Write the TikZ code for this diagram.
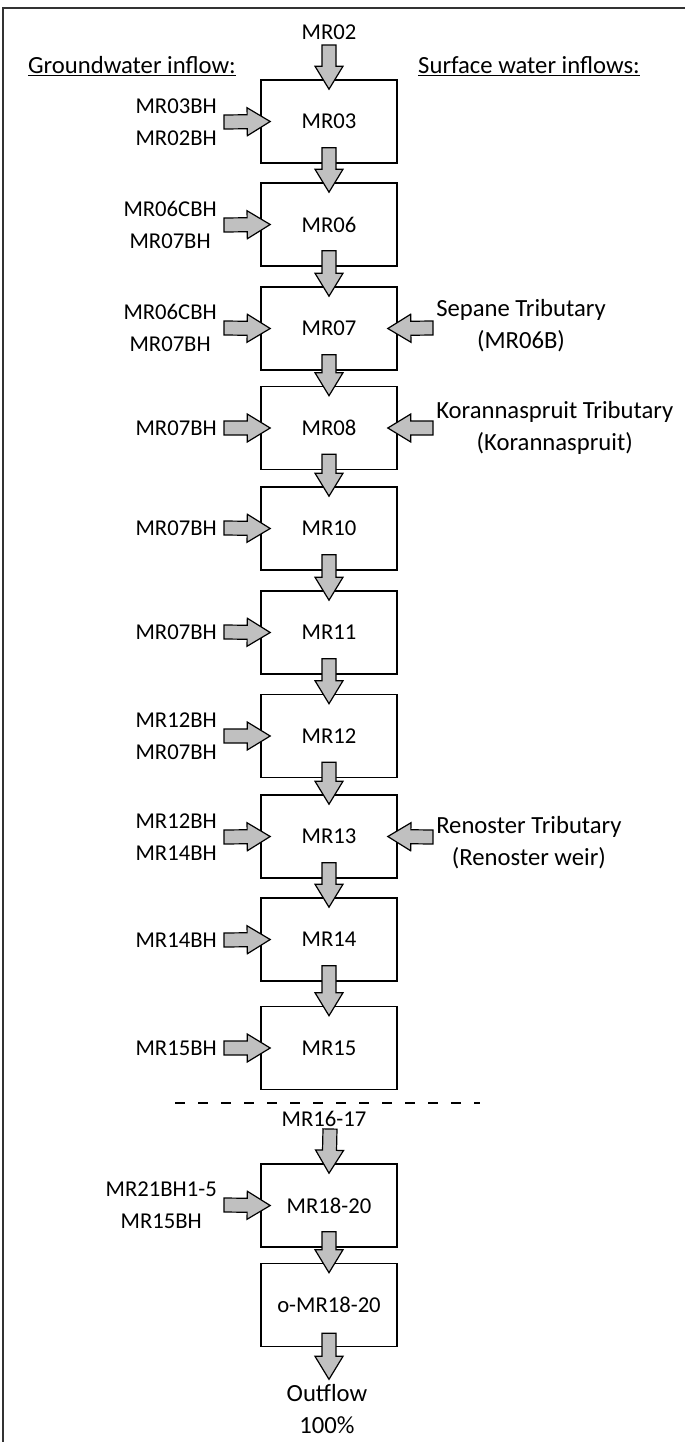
\documentclass[tikz,border=0pt]{standalone}
\usepackage{fontspec}
\setmainfont{Carlito}
\usetikzlibrary{calc}

\definecolor{flowgray}{RGB}{192,192,192}

\tikzset{
  big/.style={font=\fontsize{18.5}{24}\selectfont},
  reach/.style={draw, line width=1.2pt, minimum width=102pt, minimum height=62.25pt, inner sep=0pt},
  gwlabel/.style={anchor=east, align=center, inner sep=0pt},
  swlabel/.style={big, anchor=west, align=center, inner sep=0pt},
  % fat grey block arrow from start to target
  flow/.style={draw, fill=flowgray, line width=0.9pt, line join=miter,
    to path={let \p1=(\tikztostart), \p2=(\tikztotarget),
      \n1={atan2(\y2-\y1,\x2-\x1)}, \n2={veclen(\x2-\x1,\y2-\y1)} in
      {[shift={(\p1)}, rotate=\n1]
        (0pt,-5.25pt) -- (\n2-17.25pt,-5.25pt) -- (\n2-17.25pt,-10.5pt)
        -- (\n2,0pt) -- (\n2-17.25pt,10.5pt) -- (\n2-17.25pt,5.25pt)
        -- (0pt,5.25pt) -- cycle}}},
}

\begin{document}
\begin{tikzpicture}[x=0.75pt,y=-0.75pt,font=\fontsize{17}{24}\selectfont]
\useasboundingbox (0,0) rectangle (685,1442);
\draw [black!80, line width=0.8pt] (685,8) -- (3,8) -- (3,1442);

\node [big] (gwhead) at (132,66) {\underline{Groundwater inflow:}};
\node [big] (swhead) at (529,66) {\underline{Surface water inflows:}};

% reaches
\node [reach] (mr03) at (329,121.5) {MR03};
\node [reach] (mr06) at (329,224.5) {MR06};
\node [reach] (mr07) at (329,328.5) {MR07};
\node [reach] (mr08) at (329,428) {MR08};
\node [reach] (mr10) at (329,528.5) {MR10};
\node [reach] (mr11) at (329,632.5) {MR11};
\node [reach] (mr12) at (329,736) {MR12};
\node [reach] (mr13) at (329,836.5) {MR13};
\node [reach] (mr14) at (329,939.5) {MR14};
\node [reach] (mr15) at (329,1048) {MR15};
\node [reach] (mr1820) at (329,1205.5) {MR18-20};
\node [reach] (omr1820) at (329,1305) {o-MR18-20};

\node (mr02) at (329,32) {MR02};
\node (mr1617) at (324,1119) {MR16-17};
\node [big, align=center] (outflow) at (327,1409) {Outflow\\100\%};

% main channel
\draw [flow] ($(mr02.center)+(0,13)$) to ($(mr03.north)+(0,10)$);
\draw [flow] ($(mr03.south)+(0,-16)$) to ($(mr06.north)+(0,10)$);
\draw [flow] ($(mr06.south)+(0,-16)$) to ($(mr07.north)+(0,10)$);
\draw [flow] ($(mr07.south)+(0,-16)$) to ($(mr08.north)+(0,10)$);
\draw [flow] ($(mr08.south)+(0,-16)$) to ($(mr10.north)+(0,10)$);
\draw [flow] ($(mr10.south)+(0,-16)$) to ($(mr11.north)+(0,10)$);
\draw [flow] ($(mr11.south)+(0,-16)$) to ($(mr12.north)+(0,10)$);
\draw [flow] ($(mr12.south)+(0,-16)$) to ($(mr13.north)+(0,10)$);
\draw [flow] ($(mr13.south)+(0,-16)$) to ($(mr14.north)+(0,10)$);
\draw [flow] ($(mr14.south)+(0,-16)$) to ($(mr15.north)+(0,10)$);
\draw [flow] ($(mr1617.center)+(6,10)$) to ($(mr1820.north)+(0,10)$);
\draw [flow] ($(mr1820.south)+(0,-16)$) to ($(omr1820.north)+(0,10)$);
\draw [flow] ($(omr1820.south)+(0,-14)$) to ($(omr1820.south)+(0,32)$);

% groundwater
\node [gwlabel] (gw03) at (217,122) {MR03BH\\MR02BH};
\node [gwlabel] (gw06) at (217,225) {MR06CBH\\MR07BH};
\node [gwlabel] (gw07) at (217,328) {MR06CBH\\MR07BH};
\node [gwlabel] (gw08) at (217,428) {MR07BH};
\node [gwlabel] (gw10) at (217,528) {MR07BH};
\node [gwlabel] (gw11) at (217,632) {MR07BH};
\node [gwlabel] (gw12) at (217,736) {MR12BH\\MR07BH};
\node [gwlabel] (gw13) at (217,837) {MR12BH\\MR14BH};
\node [gwlabel] (gw14) at (217,940) {MR14BH};
\node [gwlabel] (gw15) at (217,1048) {MR15BH};
\node [gwlabel] (gw1820) at (217,1205) {MR21BH1-5\\MR15BH};

\draw [flow] ($(gw03.east)+(7,0)$) to ($(mr03.west)+(10,0)$);
\draw [flow] ($(gw06.east)+(7,0)$) to ($(mr06.west)+(10,0)$);
\draw [flow] ($(gw07.east)+(7,0)$) to ($(mr07.west)+(10,0)$);
\draw [flow] ($(gw08.east)+(7,0)$) to ($(mr08.west)+(10,0)$);
\draw [flow] ($(gw10.east)+(7,0)$) to ($(mr10.west)+(10,0)$);
\draw [flow] ($(gw11.east)+(7,0)$) to ($(mr11.west)+(10,0)$);
\draw [flow] ($(gw12.east)+(7,0)$) to ($(mr12.west)+(10,0)$);
\draw [flow] ($(gw13.east)+(7,0)$) to ($(mr13.west)+(10,0)$);
\draw [flow] ($(gw14.east)+(7,0)$) to ($(mr14.west)+(10,0)$);
\draw [flow] ($(gw15.east)+(7,0)$) to ($(mr15.west)+(10,0)$);
\draw [flow] ($(gw1820.east)+(7,0)$) to ($(mr1820.west)+(10,0)$);

% tributaries
\node [swlabel] (sw07) at (436,326) {Sepane Tributary\\(MR06B)};
\node [swlabel] (sw08) at (436,428) {Korannaspruit Tributary\\(Korannaspruit)};
\node [swlabel] (sw13) at (436,843) {Renoster Tributary\\(Renoster weir)};

\draw [flow] ($(sw07.west)+(-3,2)$) to ($(mr07.east)+(-10,0)$);
\draw [flow] ($(sw08.west)+(-3,0)$) to ($(mr08.east)+(-10,0)$);
\draw [flow] ($(sw13.west)+(-3,-6)$) to ($(mr13.east)+(-10,0)$);

\draw [dashed, dash pattern=on 7.5pt off 9.75pt, line width=1pt] (175,1103) -- (480,1103);

\end{tikzpicture}
\end{document}
